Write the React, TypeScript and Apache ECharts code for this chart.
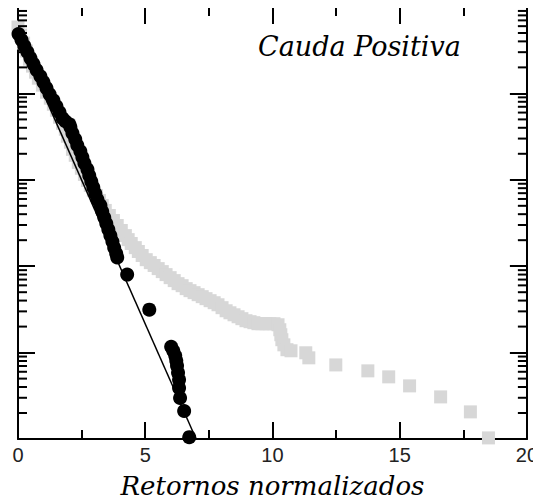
import React, { useEffect, useRef } from "react";
import * as echarts from "echarts";

// x tick labels are 0, 5, 10, 15, 20
const xMin = 0;
const xMax = 20;
const xStep = 5;

// Y axis (log) range and minor tick values (majors are the decades)
const yMin = 1e-5;
const yMax = 1;
const yMinorTicks = [
  2e-5, 3e-5, 4e-5, 5e-5, 6e-5, 7e-5, 8e-5, 9e-5,
  2e-4, 3e-4, 4e-4, 5e-4, 6e-4, 7e-4, 8e-4, 9e-4,
  2e-3, 3e-3, 4e-3, 5e-3, 6e-3, 7e-3, 8e-3, 9e-3,
  2e-2, 3e-2, 4e-2, 5e-2, 6e-2, 7e-2, 8e-2, 9e-2,
  0.2, 0.3, 0.4, 0.5, 0.6, 0.7, 0.8, 0.9,
];

// Grey series: [normalized return, P(X > x)]
const greyPoints = [
  [0, 0.586], [0.1, 0.473], [0.22, 0.382], [0.33, 0.309], [0.45, 0.249],
  [0.57, 0.207], [0.69, 0.176], [0.8, 0.15], [0.96, 0.1245], [1.12, 0.1032],
  [1.27, 0.088], [1.39, 0.0749], [1.51, 0.0638], [1.63, 0.053], [1.75, 0.0451],
  [1.86, 0.0384], [1.94, 0.0319], [2.06, 0.0272], [2.14, 0.0225], [2.25, 0.0192],
  [2.37, 0.0159], [2.49, 0.0136], [2.61, 0.01155], [2.73, 0.00984], [2.84, 0.00861],
  [2.96, 0.00753], [3.08, 0.00659], [3.2, 0.00577], [3.31, 0.00505], [3.43, 0.00442],
  [3.59, 0.00386], [3.75, 0.00338], [3.9, 0.00296], [4.06, 0.00259], [4.22, 0.00226],
  [4.33, 0.00203], [4.45, 0.00183], [4.61, 0.00164], [4.73, 0.00148], [4.88, 0.00133],
  [5.04, 0.00119], [5.2, 0.0011], [5.35, 0.00102], [5.51, 0.000938], [5.67, 0.000866],
  [5.82, 0.000799], [5.98, 0.000737], [6.14, 0.000681], [6.29, 0.000628], [6.45, 0.000595],
  [6.61, 0.00055], [6.76, 0.000521], [6.92, 0.000494], [7.08, 0.000468], [7.24, 0.000444],
  [7.39, 0.000421], [7.55, 0.000399], [7.71, 0.000378], [7.86, 0.000358], [8.02, 0.000331],
  [8.18, 0.000305], [8.33, 0.000289], [8.49, 0.000274], [8.65, 0.00026], [8.8, 0.000247],
  [8.96, 0.000234], [9.12, 0.000228], [9.27, 0.000222], [9.43, 0.000216], [9.59, 0.000216],
  [9.75, 0.000216], [9.9, 0.000216], [10.06, 0.000216], [10.22, 0.00021], [10.29, 0.000184],
  [10.33, 0.000161], [10.37, 0.000141], [10.45, 0.000123], [10.57, 0.000108], [10.73, 0.000105],
  [11.31, 0.0000995], [11.43, 0.000087], [12.49, 0.000072], [13.75, 0.0000615],
  [14.57, 0.0000524], [15.39, 0.0000412], [16.61, 0.0000307], [17.78, 0.0000206],
  [18.49, 0.0000103],
];

// Black series (positive tail data): [normalized return, P(X > x)]
const blackPoints = [
  [0.02, 0.486], [0.14, 0.414], [0.25, 0.353], [0.37, 0.301], [0.49, 0.256],
  [0.61, 0.218], [0.73, 0.186], [0.88, 0.158], [1.0, 0.135], [1.12, 0.115],
  [1.24, 0.0979], [1.39, 0.0834], [1.51, 0.071], [1.63, 0.0605], [1.75, 0.0516],
  [1.86, 0.0476], [2.02, 0.0439], [2.06, 0.0405], [2.14, 0.0345], [2.25, 0.0294],
  [2.33, 0.0251], [2.45, 0.0214], [2.53, 0.0182], [2.61, 0.0155], [2.73, 0.0132],
  [2.8, 0.0112], [2.88, 0.00958], [2.96, 0.00816], [3.04, 0.00695], [3.12, 0.00592],
  [3.24, 0.00505], [3.31, 0.0043], [3.39, 0.00366], [3.47, 0.00312], [3.55, 0.00266],
  [3.63, 0.00226], [3.71, 0.00193], [3.78, 0.00164], [3.86, 0.0014], [3.9, 0.00126],
  [4.29, 0.0008], [5.16, 0.000314], [6.02, 0.000117], [6.1, 0.000105], [6.18, 0.0000918],
  [6.22, 0.0000803], [6.25, 0.0000703], [6.29, 0.0000583], [6.33, 0.0000484],
  [6.33, 0.000039], [6.37, 0.0000299], [6.53, 0.0000211], [6.73, 0.0000105],
];

// Exponential fit line endpoints
const fitPoints = [
  [0, 0.46],
  [7.0, 1e-5],
];

export default function App() {
  const ref = useRef<HTMLDivElement>(null);

  useEffect(() => {
    if (!ref.current) return;
    const chart = echarts.init(ref.current, undefined, { renderer: "svg" });

    const lineStyle = { color: "#000", width: 2 };
    const axisLine = { show: true, onZero: false, lineStyle };
    const majorLen = 17;
    const minorLen = 9;

    const xBase = {
      type: "value" as const,
      min: xMin,
      max: xMax,
      interval: xStep,
      splitLine: { show: false },
      axisLine,
      axisTick: { show: true, inside: true, length: majorLen, lineStyle },
      minorTick: { show: true, splitNumber: 2, length: minorLen, lineStyle },
    };

    const yBase = {
      type: "log" as const,
      logBase: 10,
      min: yMin,
      max: yMax,
      axisLine,
      axisTick: { show: true, inside: true, length: majorLen, lineStyle },
      axisLabel: { show: false },
      splitLine: { show: false },
    };

    chart.setOption({
      animation: false,
      backgroundColor: "#fff",
      grid: { left: 18, right: 13, top: 7, bottom: 65, containLabel: false },
      xAxis: [
        {
          ...xBase,
          position: "bottom",
          axisLabel: {
            show: true,
            margin: 6,
            fontSize: 20,
            fontFamily: "Liberation Sans",
            color: "#222",
          },
          name: "Retornos normalizados",
          nameLocation: "middle",
          nameGap: 34,
          nameTextStyle: {
            fontFamily: "DejaVu Serif",
            fontStyle: "italic",
            fontSize: 26,
            color: "#000",
          },
        },
        {
          ...xBase,
          position: "top",
          axisLabel: { show: false },
        },
      ],
      yAxis: [
        { ...yBase, position: "left" },
        { ...yBase, position: "right" },
      ],
      graphic: [
        {
          type: "text",
          left: 258,
          top: 33,
          style: {
            text: "Cauda Positiva",
            font: 'italic 27px "DejaVu Serif"',
            fill: "#000",
          },
        },
      ],
      series: [
        {
          type: "scatter",
          name: "grey",
          xAxisIndex: 0,
          yAxisIndex: 0,
          symbol: "rect",
          symbolSize: 13,
          clip: false,
          itemStyle: { color: "#d7d7d7", opacity: 1 },
          data: greyPoints,
          z: 2,
        },
        {
          type: "scatter",
          name: "black",
          xAxisIndex: 0,
          yAxisIndex: 0,
          symbol: "circle",
          symbolSize: 14,
          clip: false,
          itemStyle: { color: "#000", opacity: 1 },
          data: blackPoints,
          z: 3,
        },
        {
          type: "line",
          name: "fit",
          xAxisIndex: 0,
          yAxisIndex: 0,
          showSymbol: false,
          symbol: "none",
          lineStyle: { color: "#000", width: 1.5 },
          data: fitPoints,
          z: 4,
        },
        {
          // minor log ticks on both vertical frame sides, placed via the axes' scales
          type: "custom",
          name: "minorTicks",
          xAxisIndex: 0,
          yAxisIndex: 0,
          silent: true,
          clip: false,
          z: 5,
          encode: { x: 0, y: 1 },
          data: yMinorTicks.map((v) => [xMin, v]),
          renderItem: (_params: any, api: any) => {
            const v = api.value(1);
            const l = api.coord([xMin, v]);
            const r = api.coord([xMax, v]);
            return {
              type: "group",
              children: [
                {
                  type: "line",
                  shape: { x1: l[0], y1: l[1], x2: l[0] + minorLen, y2: l[1] },
                  style: { stroke: "#000", lineWidth: 2 },
                },
                {
                  type: "line",
                  shape: { x1: r[0] - minorLen, y1: r[1], x2: r[0], y2: r[1] },
                  style: { stroke: "#000", lineWidth: 2 },
                },
              ],
            };
          },
        },
      ],
    });

    return () => chart.dispose();
  }, []);

  return <div ref={ref} style={{ width: 541, height: 504, margin: -8 }} />;
}
